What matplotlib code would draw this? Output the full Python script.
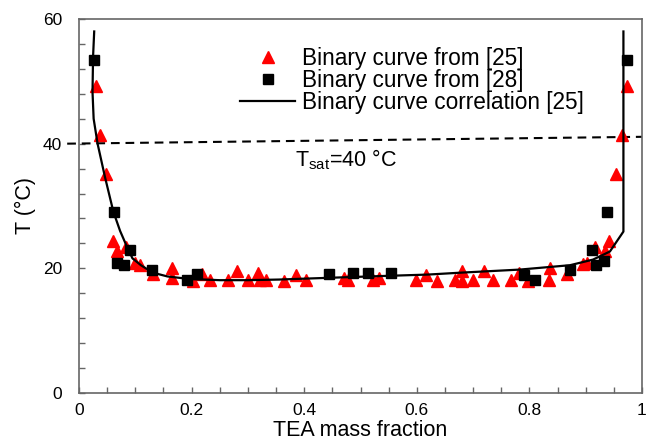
import matplotlib
matplotlib.use('Agg')
import matplotlib.pyplot as plt

plt.rcParams['font.family'] = ['Liberation Sans', 'DejaVu Sans']
plt.rcParams['mathtext.fontset'] = 'custom'
plt.rcParams['mathtext.rm'] = 'Liberation Sans'

# Binary curve from [25] (red triangles)
x_25 = [0.030, 0.037, 0.048, 0.060, 0.067, 0.083, 0.099, 0.108, 0.132, 0.165,
        0.166, 0.202, 0.218, 0.233, 0.265, 0.281, 0.301, 0.318, 0.321, 0.333,
        0.365, 0.385, 0.403, 0.470, 0.478, 0.523, 0.533, 0.599, 0.616, 0.635,
        0.668, 0.681, 0.680, 0.700, 0.719, 0.735, 0.768, 0.782, 0.798, 0.837,
        0.835, 0.867, 0.896, 0.902, 0.917, 0.934, 0.942, 0.954, 0.964, 0.973]
t_25 = [49.3, 41.4, 35.2, 24.4, 22.8, 23.5, 20.8, 20.5, 19.1, 20.0,
        18.4, 18.0, 19.1, 18.1, 18.1, 19.5, 18.1, 19.3, 18.1, 18.1,
        18.0, 18.9, 18.1, 18.4, 18.1, 18.1, 18.4, 18.1, 18.9, 18.0,
        18.1, 19.5, 18.0, 18.1, 19.6, 18.1, 18.1, 19.3, 18.0, 20.0,
        18.2, 19.1, 20.7, 20.8, 23.5, 22.8, 24.4, 35.2, 41.4, 49.3]

# Binary curve from [28] (black squares)
x_28 = [0.027, 0.063, 0.067, 0.080, 0.091, 0.129, 0.191, 0.209, 0.444, 0.487,
        0.514, 0.554, 0.790, 0.810, 0.873, 0.911, 0.919, 0.932, 0.937, 0.973]
t_28 = [53.5, 29.1, 20.9, 20.5, 23.0, 19.8, 18.2, 19.1, 19.1, 19.2,
        19.2, 19.2, 18.9, 18.2, 19.7, 23.0, 20.5, 21.1, 29.1, 53.5]

# Binary curve correlation [25]
x_corr = [0.027, 0.025, 0.024, 0.026, 0.033, 0.046, 0.061, 0.073, 0.085, 0.095,
          0.110, 0.124, 0.140, 0.157, 0.195, 0.250, 0.300, 0.355, 0.450, 0.550,
          0.620, 0.677, 0.783, 0.872, 0.913, 0.943, 0.967, 0.967]
t_corr = [58.0, 54.0, 48.3, 44.0, 40.0, 34.7, 29.1, 26.0, 23.5, 21.6,
          20.5, 19.7, 19.1, 18.7, 18.3, 18.1, 18.1, 18.2, 18.5, 18.8,
          19.0, 19.3, 19.8, 20.5, 21.4, 22.7, 25.9, 58.0]

# Saturation line (slightly tilted in the source)
x_sat = [-0.021, 1.0]
t_sat = [40.0, 41.1]

fig = plt.figure(figsize=(6.51, 4.41), dpi=100)
ax = fig.add_axes([79 / 651, 48 / 441, 563 / 651, 374 / 441])

ax.plot(x_sat, t_sat, color='black', lw=1.5, linestyle=(0, (4.2, 2.8)), clip_on=False)
ax.plot(x_25, t_25, '^', color='red', ms=8, mec='red', label='Binary curve from [25]')
ax.plot(x_28, t_28, 's', color='black', ms=7.5, label='Binary curve from [28]')
ax.plot(x_corr, t_corr, '-', color='black', lw=1.6, label='Binary curve correlation [25]')

ax.text(0.384, 36.3, r'T$_{\mathrm{sat}}$=40 °C', fontsize=15.5, va='baseline', ha='left')

ax.set_xlim(0, 1)
ax.set_ylim(0, 60)
ax.set_xticks([0, 0.2, 0.4, 0.6, 0.8, 1.0])
ax.set_xticklabels(['0', '0.2', '0.4', '0.6', '0.8', '1'])
ax.set_yticks([0, 20, 40, 60])
ax.set_xticks([i * 0.05 for i in range(21)], minor=True)
ax.set_yticks(list(range(0, 61, 4)), minor=True)

for s in ax.spines.values():
    s.set_color('#666666')
    s.set_linewidth(1.2)
ax.tick_params(which='both', direction='in', color='#666666', width=1.0,
               top=False, right=False, labelsize=12.5, length=4)
ax.tick_params(axis='y', pad=12)
ax.tick_params(axis='x', pad=7)

ax.set_xlabel('TEA mass fraction', fontsize=15.5, labelpad=1.5)
ax.set_ylabel('T (°C)', fontsize=15.5, labelpad=5)

ax.legend(loc='upper left', bbox_to_anchor=(240 / 651, 1 - 47 / 441),
          bbox_transform=fig.transFigure, frameon=False, fontsize=16.3,
          handlelength=2.45, handletextpad=0.3, labelspacing=-0.05,
          borderpad=0, borderaxespad=0, numpoints=1)

fig.savefig('out.png', dpi=100, facecolor='white')
